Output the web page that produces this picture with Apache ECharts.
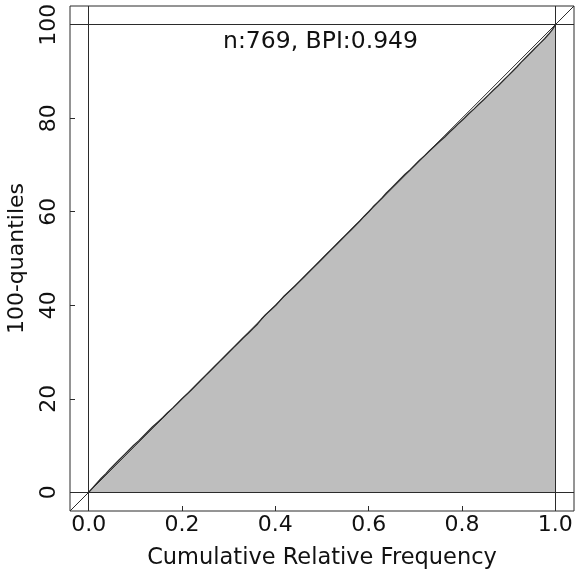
<!DOCTYPE html>
<html>
<head>
<meta charset="utf-8">
<script src="https://cdn.jsdelivr.net/npm/echarts@6/dist/echarts.min.js"></script>
<style>
  html, body { margin: 0; padding: 0; background: #fff; }
  #chart { width: 575px; height: 576px; }
</style>
</head>
<body>
<div id="chart"></div>
<script>
// Percentile levels (0..100) and the cumulative relative frequency at each one
const quantiles = [
  0, 1, 2, 3, 4, 5, 6, 7, 8, 9,
  10, 11, 12, 13, 14, 15, 16, 17, 18, 19,
  20, 21, 22, 23, 24, 25, 26, 27, 28, 29,
  30, 31, 32, 33, 34, 35, 36, 37, 38, 39,
  40, 41, 42, 43, 44, 45, 46, 47, 48, 49,
  50, 51, 52, 53, 54, 55, 56, 57, 58, 59,
  60, 61, 62, 63, 64, 65, 66, 67, 68, 69,
  70, 71, 72, 73, 74, 75, 76, 77, 78, 79,
  80, 81, 82, 83, 84, 85, 86, 87, 88, 89,
  90, 91, 92, 93, 94, 95, 96, 97, 98, 99,
  100
];
const cumFreq = [
  0.000, 0.009, 0.018, 0.027, 0.037, 0.046, 0.056, 0.066, 0.076, 0.086,
  0.096, 0.107, 0.117, 0.127, 0.137, 0.148, 0.159, 0.169, 0.180, 0.190,
  0.200, 0.211, 0.221, 0.231, 0.241, 0.251, 0.261, 0.271, 0.281, 0.291,
  0.301, 0.311, 0.321, 0.331, 0.342, 0.352, 0.362, 0.370, 0.379, 0.390,
  0.401, 0.410, 0.419, 0.430, 0.441, 0.451, 0.461, 0.471, 0.481, 0.491,
  0.501, 0.511, 0.521, 0.531, 0.541, 0.551, 0.561, 0.571, 0.581, 0.590,
  0.600, 0.609, 0.619, 0.629, 0.638, 0.648, 0.658, 0.668, 0.678, 0.689,
  0.699, 0.709, 0.720, 0.730, 0.741, 0.752, 0.763, 0.773, 0.784, 0.794,
  0.805, 0.815, 0.826, 0.836, 0.847, 0.857, 0.867, 0.878, 0.888, 0.898,
  0.908, 0.918, 0.927, 0.937, 0.947, 0.957, 0.967, 0.977, 0.986, 0.994,
  1.000
];

// Axis ticks and labels
const xTicks = [0, 0.2, 0.4, 0.6, 0.8, 1.0];
const yTicks = [0, 20, 40, 60, 80, 100];

// Sample summary shown inside the plot
const sampleSize = 769;
const bpi = 0.949;

const xRange = [-0.04, 1.04];
const yRange = [-4, 104];

const FONT = 'DejaVu Sans';
const INK = '#2b2b2b';

const curve = quantiles.map((q, i) => [cumFreq[i], q]);

const chart = echarts.init(document.getElementById('chart'), null, { renderer: 'canvas' });

chart.setOption({
  animation: false,
  backgroundColor: '#ffffff',
  grid: {
    left: 70, top: 6, width: 504, height: 505,
    outerBoundsMode: 'none',
    containLabel: false,
    show: true, borderColor: INK, borderWidth: 1, backgroundColor: 'transparent'
  },
  xAxis: {
    type: 'value',
    min: xRange[0], max: xRange[1],
    name: 'Cumulative Relative Frequency',
    nameLocation: 'middle',
    nameGap: 36,
    nameTextStyle: { fontFamily: FONT, fontSize: 22.5, color: '#111' },
    axisLine: { show: false, onZero: false },
    splitLine: { show: false },
    axisTick: { show: true, inside: true, length: 5, customValues: xTicks, lineStyle: { color: INK } },
    axisLabel: {
      customValues: xTicks,
      formatter: v => v.toFixed(1),
      fontFamily: FONT, fontSize: 22, color: '#111', margin: 3
    }
  },
  yAxis: {
    type: 'value',
    min: yRange[0], max: yRange[1],
    name: '100-quantiles',
    nameLocation: 'middle',
    nameGap: 42,
    nameRotate: 90,
    nameTextStyle: { fontFamily: FONT, fontSize: 22, color: '#111' },
    axisLine: { show: false, onZero: false },
    splitLine: { show: false },
    axisTick: { show: true, inside: true, length: 5, customValues: yTicks, lineStyle: { color: INK } },
    axisLabel: {
      customValues: yTicks,
      rotate: 90,
      fontFamily: FONT, fontSize: 22, color: '#111', margin: 10
    }
  },
  graphic: [{
    type: 'text',
    left: 223, top: 30,
    style: {
      text: 'n:' + sampleSize + ', BPI:' + bpi.toFixed(3),
      font: '23.5px "' + FONT + '"',
      fill: '#111'
    }
  }],
  series: [
    {
      // cumulative curve with the region beneath it shaded
      type: 'line',
      data: curve,
      showSymbol: false,
      symbol: 'none',
      z: 2,
      lineStyle: { color: INK, width: 1.3 },
      areaStyle: { color: '#bebebe', opacity: 1, origin: 0 },
      markLine: {
        silent: true,
        symbol: 'none',
        label: { show: false },
        lineStyle: { color: INK, width: 1, type: 'solid' },
        data: [
          { xAxis: 0 }, { xAxis: 1 },
          { yAxis: 0 }, { yAxis: 100 }
        ]
      }
    },
    {
      // reference diagonal y = 100x across the whole plot region
      type: 'line',
      data: [[xRange[0], yRange[0]], [xRange[1], yRange[1]]],
      showSymbol: false,
      symbol: 'none',
      z: 3,
      lineStyle: { color: INK, width: 1 }
    }
  ]
});
</script>
</body>
</html>
